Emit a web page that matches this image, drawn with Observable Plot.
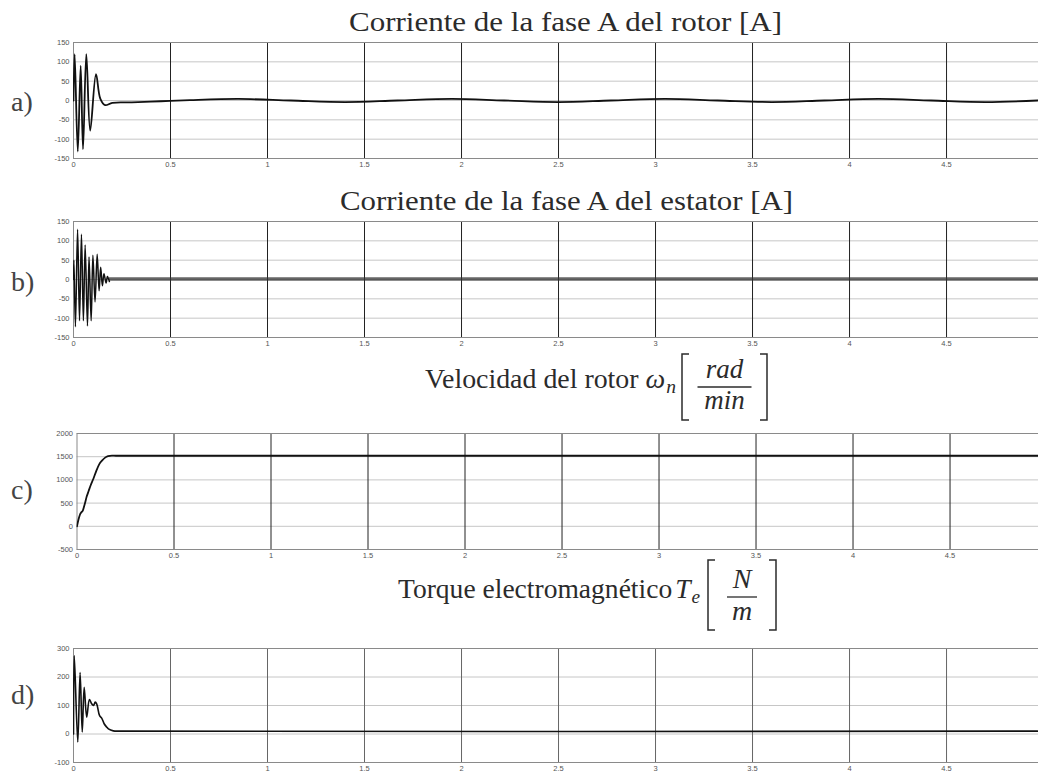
<!DOCTYPE html>
<html lang="es">
<head>
<meta charset="utf-8">
<script src="https://cdn.jsdelivr.net/npm/d3@7"></script>
<script src="https://cdn.jsdelivr.net/npm/@observablehq/plot@0.6"></script>
<style>
  html, body { margin: 0; padding: 0; background: #fff; }
  #fig { position: relative; width: 1038px; height: 778px; overflow: hidden; background: #fff; }
  #fig > svg.panel { position: absolute; left: 0; }
  #labels { position: absolute; left: 0; top: 0; pointer-events: none; }
</style>
</head>
<body>
<div id="fig"></div>
<script>
// ---------- data: induction motor start-up (time in s) ----------
const timeTicks = [0, 0.5, 1, 1.5, 2, 2.5, 3, 3.5, 4, 4.5];
const currentTicks = [-150, -100, -50, 0, 50, 100, 150];
const speedTicks = [-500, 0, 500, 1000, 1500, 2000];
const torqueTicks = [-100, 0, 100, 200, 300];

// a) rotor phase-A current [A], turning points of the waveform
const rotorTime    = [0, 0.006, 0.022, 0.037, 0.049, 0.066, 0.086, 0.116, 0.138, 0.163, 0.2, 0.3, 0.45, 0.6, 0.85, 1.12, 1.4, 1.67, 1.95, 2.22, 2.5, 2.77, 3.05, 3.32, 3.6, 3.87, 4.15, 4.42, 4.7, 4.97];
const rotorCurrent = [0, 120, -132, 90, -126, 120, -78, 68, 5, -12, -6, -5, -2, 1, 4, 0, -4, 0, 4, 0, -4, 0, 4, 0, -4, 0, 4, 0, -4, 0];

// b) stator phase-A current [A]: start-up peaks, then steady ripple envelope
const statorTime    = [0, 0.002, 0.01, 0.021, 0.031, 0.041, 0.051, 0.06, 0.072, 0.08, 0.091, 0.1, 0.111, 0.122, 0.132, 0.14, 0.149, 0.157, 0.168, 0.175, 0.185];
const statorCurrent = [0, 50, -122, 130, -107, 117, -107, 89, -120, 58, -107, 63, -58, 65, -29, 32, -16, 15, -9, 8, -5];
const rippleTime = [0.185, 4.974];
const rippleLow  = [-4.5, -4.5];
const rippleHigh = [4.5, 4.5];

// c) rotor speed
const speedTime  = [0, 0.008, 0.016, 0.022, 0.03, 0.04, 0.05, 0.06, 0.07, 0.085, 0.1, 0.115, 0.13, 0.145, 0.16, 0.18, 0.2, 4.96];
const speedValue = [0, 150, 260, 300, 340, 480, 640, 760, 880, 1030, 1200, 1340, 1420, 1480, 1510, 1522, 1520, 1520];

// d) electromagnetic torque
const torqueTime  = [0, 0.004, 0.022, 0.034, 0.045, 0.055, 0.068, 0.082, 0.092, 0.103, 0.112, 0.12, 0.134, 0.146, 0.158, 0.17, 0.18, 0.205, 0.25, 4.97];
const torqueValue = [0, 275, -28, 216, 7, 164, 59, 121, 108, 100, 112, 105, 65, 55, 36, 25, 18, 11, 10, 10];

// ---------- helpers ----------
const fig = document.getElementById("fig");
const table = (xs, ys) => xs.map((t, i) => ({t, v: ys[i]}));
const fmt = d => String(d);

function panel({top, innerH, left, xMax, yTicks, gridXColor, marks}) {
  const mt = 10, mb = 16;
  const svg = Plot.plot({
    width: 1038,
    height: innerH + mt + mb,
    marginLeft: left, marginRight: 0, marginTop: mt, marginBottom: mb,
    style: {background: "transparent", color: "#555", fontFamily: "'Liberation Sans', Arial, sans-serif", fontSize: "7.5px", overflow: "visible"},
    x: {domain: [0, xMax]},
    y: {domain: [yTicks[0], yTicks[yTicks.length - 1]]},
    marks: [
      Plot.gridY(yTicks, {stroke: "#c6c6c6", strokeOpacity: 1}),
      Plot.gridX(timeTicks.slice(1), {stroke: gridXColor, strokeOpacity: 1}),
      Plot.frame({stroke: "#8a8a8a"}),
      Plot.axisY(yTicks, {tickSize: 0, tickPadding: 4, tickFormat: fmt, label: null}),
      Plot.axisX(timeTicks, {tickSize: 0, tickPadding: 3, tickFormat: fmt, label: null}),
      ...marks
    ]
  });
  svg.classList.add("panel");
  svg.style.top = (top - mt) + "px";
  fig.append(svg);
}

const lineStyle = {x: "t", y: "v", stroke: "#111", strokeWidth: 1.8, clip: true};

// a) rotor current
panel({
  top: 42, innerH: 116, left: 73, xMax: 4.974, yTicks: currentTicks, gridXColor: "#222",
  marks: [Plot.line(table(rotorTime, rotorCurrent), {...lineStyle, curve: "catmull-rom"})]
});

// b) stator current
panel({
  top: 221, innerH: 116, left: 73, xMax: 4.974, yTicks: currentTicks, gridXColor: "#222",
  marks: [
    Plot.areaY(rippleTime.map((t, i) => ({t, lo: rippleLow[i], hi: rippleHigh[i]})),
      {x: "t", y1: "lo", y2: "hi", fill: "#333", fillOpacity: 0.75, clip: true}),
    Plot.line(table(statorTime, statorCurrent), {...lineStyle, strokeWidth: 1.5, curve: "catmull-rom"})
  ]
});

// c) rotor speed
panel({
  top: 433, innerH: 116, left: 76.5, xMax: 4.956, yTicks: speedTicks, gridXColor: "#222",
  marks: [Plot.line(table(speedTime, speedValue), {...lineStyle, curve: "monotone-x"})]
});

// d) torque
panel({
  top: 648, innerH: 114, left: 73, xMax: 4.974, yTicks: torqueTicks, gridXColor: "#666",
  marks: [Plot.line(table(torqueTime, torqueValue), {...lineStyle, strokeWidth: 1.6, curve: "catmull-rom"})]
});

// ---------- titles and panel letters ----------
const serif = "'Liberation Serif', 'Times New Roman', serif";
const ink = "#2b2b2b";
const overlay = d3.select(fig).append("svg")
  .attr("id", "labels").attr("width", 1038).attr("height", 778)
  .style("font-family", serif).style("fill", ink);

// plain titles, spread to the width of the typeset originals
function plainTitle(x, y, width, text) {
  overlay.append("text").attr("x", x).attr("y", y).attr("font-size", 27)
    .attr("textLength", width).attr("lengthAdjust", "spacingAndGlyphs").text(text);
}
plainTitle(349, 31, 433, "Corriente de la fase A del rotor [A]");
plainTitle(340, 210, 453, "Corriente de la fase A del estator [A]");

// titles ending in a bracketed unit fraction
function unitTitle({x0, width, base, size, label, sym, sub, num, den, bx0, bx1, barHalf, top, bottom}) {
  const t = overlay.append("text").attr("x", x0).attr("y", base).attr("font-size", size)
    .attr("textLength", width).attr("lengthAdjust", "spacingAndGlyphs");
  t.append("tspan").text(label);
  t.append("tspan").attr("font-style", "italic").attr("dx", label.endsWith(" ") ? 0 : 3).text(sym);
  t.append("tspan").attr("font-style", "italic").attr("font-size", size * 0.7)
    .attr("dx", 1).attr("dy", size * 0.19).text(sub);
  const cx = (bx0 + bx1) / 2;
  const bar = base - 1;
  overlay.append("text").attr("x", cx).attr("y", bar - 9).attr("text-anchor", "middle")
    .attr("font-size", size).attr("font-style", "italic").text(num);
  overlay.append("text").attr("x", cx).attr("y", bar + size * 0.82).attr("text-anchor", "middle")
    .attr("font-size", size).attr("font-style", "italic").text(den);
  overlay.append("line").attr("x1", cx - barHalf).attr("x2", cx + barHalf)
    .attr("y1", bar).attr("y2", bar).attr("stroke", ink).attr("stroke-width", 1.3);
  overlay.append("path").attr("fill", "none").attr("stroke", ink).attr("stroke-width", 1.5)
    .attr("d", `M${bx0 + 7},${top}H${bx0}V${bottom}H${bx0 + 7}`);
  overlay.append("path").attr("fill", "none").attr("stroke", ink).attr("stroke-width", 1.5)
    .attr("d", `M${bx1 - 7},${top}H${bx1}V${bottom}H${bx1 - 7}`);
}

unitTitle({x0: 425, width: 251, base: 388, size: 27, label: "Velocidad del rotor ", sym: "ω", sub: "n",
  num: "rad", den: "min", bx0: 682, bx1: 767, barHalf: 27, top: 354, bottom: 420});
unitTitle({x0: 398, width: 302, base: 598, size: 28, label: "Torque electromagnético", sym: "T", sub: "e",
  num: "N", den: "m", bx0: 708, bx1: 776, barHalf: 15, top: 560, bottom: 630});

const letters = [["a)", 111], ["b)", 291], ["c)", 499], ["d)", 704]];
for (const [s, y] of letters) {
  overlay.append("text").attr("x", 11).attr("y", y).attr("font-size", 28)
    .style("fill", "#444").text(s);
}
</script>
</body>
</html>
